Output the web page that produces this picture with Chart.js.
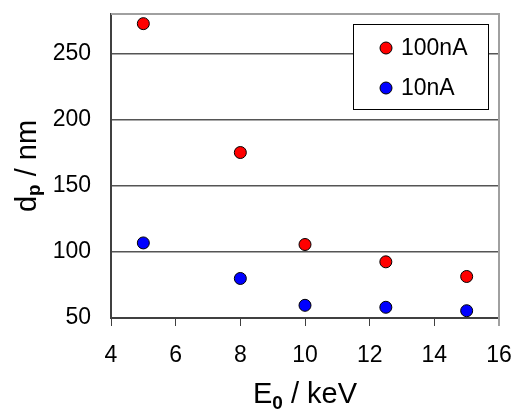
<!DOCTYPE html>
<html>
<head>
<meta charset="utf-8">
<script src="https://cdn.jsdelivr.net/npm/chart.js@4/dist/chart.umd.min.js"></script>
<style>
html,body{margin:0;padding:0;background:#fff;}
#wrap{width:516px;height:411px;position:relative;}
</style>
</head>
<body>
<div id="wrap"><canvas id="c" width="516" height="411"></canvas></div>
<script>
const energies = [5, 8, 10, 12.5, 15];
const d100nA = [272.7, 175.2, 105.6, 92.5, 81.4];
const d10nA = [106.8, 79.9, 59.6, 58.1, 55.5];
const xTicks = [4, 6, 8, 10, 12, 14, 16];
const yTicks = [50, 100, 150, 200, 250];
const seriesNames = ['100nA', '10nA'];

const FONT = '"Liberation Sans", Arial, sans-serif';

const decor = {
  id: 'decor',
  afterDraw(chart) {
    const ctx = chart.ctx;
    const a = chart.chartArea;
    ctx.save();
    ctx.setLineDash([]);
    ctx.globalAlpha = 1;
    // top and right frame
    ctx.fillStyle = '#a0a0a0';
    ctx.fillRect(Math.round(a.left), Math.round(a.top) - 1, Math.round(a.right - a.left) + 1, 2);
    ctx.fillRect(Math.round(a.right) - 1, Math.round(a.top) - 1, 2, Math.round(a.bottom - a.top) + 9);
    // legend
    const bx = 353, by = 24, bw = 135, bh = 85;
    ctx.fillStyle = '#fff';
    ctx.fillRect(bx, by, bw, bh);
    ctx.strokeStyle = '#000';
    ctx.lineWidth = 1;
    ctx.strokeRect(bx + 0.5, by + 0.5, bw, bh);
    chart.data.datasets.forEach((ds, i) => {
      const cy = 48 + i * 40;
      ctx.beginPath();
      ctx.arc(386, cy, 6, 0, Math.PI * 2);
      ctx.fillStyle = ds.backgroundColor;
      ctx.fill();
      ctx.strokeStyle = '#000';
      ctx.stroke();
      ctx.fillStyle = '#000';
      ctx.font = '23px ' + FONT;
      ctx.textBaseline = 'middle';
      ctx.textAlign = 'left';
      ctx.fillText(ds.label, 401, cy + 1);
    });
    // axis titles with subscripts
    ctx.fillStyle = '#000';
    ctx.textBaseline = 'alphabetic';
    const xParts = [['E', '29px ' + FONT, 0], ['0', 'bold 19px ' + FONT, 6], [' / keV', '29px ' + FONT, 0]];
    let w = 0;
    xParts.forEach(p => { ctx.font = p[1]; w += ctx.measureText(p[0]).width; });
    let x = (a.left + a.right) / 2 - w / 2;
    const baseX = 403;
    xParts.forEach(p => { ctx.font = p[1]; ctx.fillText(p[0], x, baseX + p[2]); x += ctx.measureText(p[0]).width; });
    ctx.translate(36, (a.top + a.bottom) / 2);
    ctx.rotate(-Math.PI / 2);
    const yParts = [['d', '29px ' + FONT, 0], ['p', 'bold 19px ' + FONT, 4], [' / nm', '29px ' + FONT, 0]];
    w = 0;
    yParts.forEach(p => { ctx.font = p[1]; w += ctx.measureText(p[0]).width; });
    x = -w / 2;
    yParts.forEach(p => { ctx.font = p[1]; ctx.fillText(p[0], x, p[2]); x += ctx.measureText(p[0]).width; });
    ctx.restore();
  }
};

new Chart(document.getElementById('c'), {
  type: 'scatter',
  data: {
    datasets: [
      { label: seriesNames[0], data: energies.map((e, i) => ({x: e, y: d100nA[i]})),
        backgroundColor: '#ff0000', borderColor: '#000', borderWidth: 1, pointRadius: 6, pointHoverRadius: 6 },
      { label: seriesNames[1], data: energies.map((e, i) => ({x: e, y: d10nA[i]})),
        backgroundColor: '#0000ff', borderColor: '#000', borderWidth: 1, pointRadius: 6, pointHoverRadius: 6 }
    ]
  },
  options: {
    responsive: false,
    animation: false,
    devicePixelRatio: 1,
    layout: { padding: { left: 0, right: 17, top: 14, bottom: 0 } },
    plugins: { legend: { display: false }, tooltip: { enabled: false } },
    scales: {
      x: {
        type: 'linear', min: 4, max: 16,
        afterBuildTicks: s => { s.ticks = xTicks.map(v => ({value: v})); },
        afterFit: s => { s.height = 93; s.paddingLeft = 0; s.paddingRight = 0; },
        grid: { drawOnChartArea: false, drawTicks: true, tickLength: 8, color: '#404040', lineWidth: 1 },
        border: { color: '#404040', width: 2 },
        ticks: { color: '#000', font: { family: FONT, size: 23 }, padding: 16, maxRotation: 0 }
      },
      y: {
        type: 'linear', min: 50, max: 280,
        afterBuildTicks: s => { s.ticks = yTicks.map(v => ({value: v})); },
        afterFit: s => { s.width = 111; s.paddingTop = 0; s.paddingBottom = 0; },
        grid: { drawOnChartArea: true, drawTicks: false, color: '#555', lineWidth: 1.5 },
        border: { color: '#404040', width: 2 },
        ticks: { color: '#000', font: { family: FONT, size: 23 }, padding: 20 }
      }
    }
  },
  plugins: [decor]
});
</script>
</body>
</html>
